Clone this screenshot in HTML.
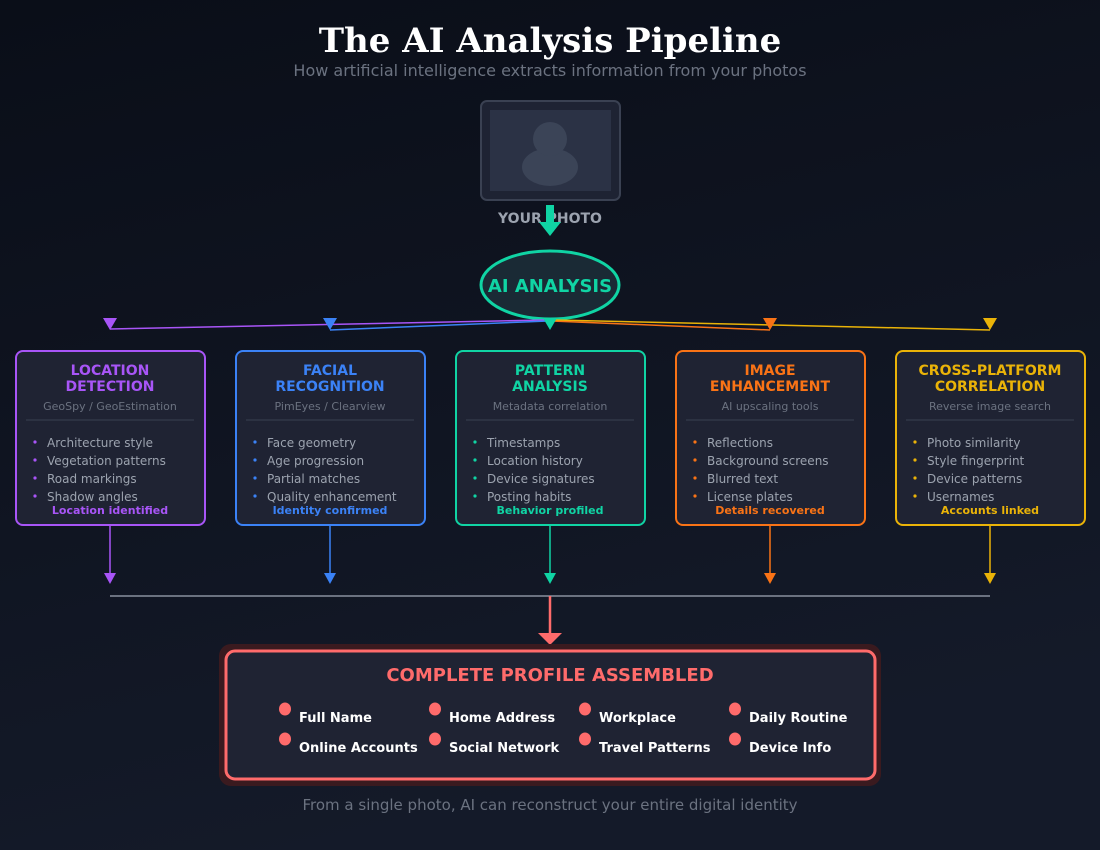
<!DOCTYPE html>
<html><head><meta charset="utf-8"><style>
html,body{margin:0;padding:0;width:1100px;height:850px;overflow:hidden;background:#0d111c}
svg{display:block}
text{font-family:"DejaVu Sans","Liberation Sans",sans-serif}
</style></head><body>
<svg width="1100" height="850" viewBox="0 0 1100 850" xmlns="http://www.w3.org/2000/svg">
<defs>
<linearGradient id="bg" x1="0" y1="0" x2="0.3" y2="1">
<stop offset="0" stop-color="#0a0e18"/><stop offset="1" stop-color="#141a29"/>
</linearGradient>
</defs>
<rect width="1100" height="850" fill="url(#bg)"/>
<text x="550" y="52" text-anchor="middle" style="font-family:'DejaVu Serif','Liberation Serif',serif" font-weight="bold" font-size="34" fill="#ffffff">The AI Analysis Pipeline</text>
<text x="550" y="76" text-anchor="middle" font-size="16" fill="#6b7280">How artificial intelligence extracts information from your photos</text>

<rect x="481" y="101" width="139" height="99" rx="6" fill="#1e2333" stroke="#3a4152" stroke-width="2"/>
<rect x="490" y="110" width="121" height="81" fill="#2b3245"/>
<ellipse cx="550" cy="167" rx="28" ry="19" fill="#3b4457"/>
<circle cx="550" cy="139" r="17" fill="#3b4457"/>
<text x="550" y="223" text-anchor="middle" font-size="14" font-weight="bold" fill="#9ca3af">YOUR PHOTO</text>
<rect x="546" y="205" width="8" height="18" fill="#10d4a4"/>
<polygon points="539,222 561,222 550,236" fill="#10d4a4"/>

<ellipse cx="550" cy="285" rx="69" ry="34" fill="#1a2a35" stroke="#10d4a4" stroke-width="3"/>
<text x="550" y="292" text-anchor="middle" font-size="18" font-weight="bold" fill="#10d4a4">AI ANALYSIS</text>

<g stroke-width="1.5" fill="none">
<line x1="545" y1="320" x2="110" y2="329" stroke="#a855f7"/>
<line x1="548" y1="321" x2="330" y2="330" stroke="#3b82f6"/>
<line x1="552" y1="321" x2="770" y2="330" stroke="#f97316"/>
<line x1="555" y1="320" x2="990" y2="330" stroke="#eab308"/>
</g>
<polygon points="103,318 117,318 110,330" fill="#a855f7"/>
<polygon points="323,318 337,318 330,330" fill="#3b82f6"/>
<polygon points="543,318 557,318 550,330" fill="#10d4a4"/>
<polygon points="763,318 777,318 770,330" fill="#f97316"/>
<polygon points="983,318 997,318 990,330" fill="#eab308"/>

<g font-size="12">
<rect x="16" y="351" width="189" height="174" rx="7" fill="#1f2333" stroke="#a855f7" stroke-width="2"/>
<text x="110" y="375" text-anchor="middle" font-size="14" font-weight="bold" fill="#a855f7">LOCATION</text>
<text x="110" y="391" text-anchor="middle" font-size="14" font-weight="bold" fill="#a855f7">DETECTION</text>
<text x="110" y="410" text-anchor="middle" font-size="11" fill="#6b7280">GeoSpy / GeoEstimation</text>
<line x1="26" y1="420" x2="194" y2="420" stroke="#3a4152"/>
<g fill="#9ca3af"><text x="47" y="447">Architecture style</text><text x="47" y="465">Vegetation patterns</text><text x="47" y="483">Road markings</text><text x="47" y="501">Shadow angles</text></g>
<g fill="#a855f7"><circle cx="35" cy="442" r="1.6"/><circle cx="35" cy="460" r="1.6"/><circle cx="35" cy="478" r="1.6"/><circle cx="35" cy="496" r="1.6"/></g>
<text x="110" y="514" text-anchor="middle" font-size="11" font-weight="bold" fill="#a855f7">Location identified</text>

<rect x="236" y="351" width="189" height="174" rx="7" fill="#1f2333" stroke="#3b82f6" stroke-width="2"/>
<text x="330" y="375" text-anchor="middle" font-size="14" font-weight="bold" fill="#3b82f6">FACIAL</text>
<text x="330" y="391" text-anchor="middle" font-size="14" font-weight="bold" fill="#3b82f6">RECOGNITION</text>
<text x="330" y="410" text-anchor="middle" font-size="11" fill="#6b7280">PimEyes / Clearview</text>
<line x1="246" y1="420" x2="414" y2="420" stroke="#3a4152"/>
<g fill="#9ca3af"><text x="267" y="447">Face geometry</text><text x="267" y="465">Age progression</text><text x="267" y="483">Partial matches</text><text x="267" y="501">Quality enhancement</text></g>
<g fill="#3b82f6"><circle cx="255" cy="442" r="1.6"/><circle cx="255" cy="460" r="1.6"/><circle cx="255" cy="478" r="1.6"/><circle cx="255" cy="496" r="1.6"/></g>
<text x="330" y="514" text-anchor="middle" font-size="11" font-weight="bold" fill="#3b82f6">Identity confirmed</text>

<rect x="456" y="351" width="189" height="174" rx="7" fill="#1f2333" stroke="#10d4a4" stroke-width="2"/>
<text x="550" y="375" text-anchor="middle" font-size="14" font-weight="bold" fill="#10d4a4">PATTERN</text>
<text x="550" y="391" text-anchor="middle" font-size="14" font-weight="bold" fill="#10d4a4">ANALYSIS</text>
<text x="550" y="410" text-anchor="middle" font-size="11" fill="#6b7280">Metadata correlation</text>
<line x1="466" y1="420" x2="634" y2="420" stroke="#3a4152"/>
<g fill="#9ca3af"><text x="487" y="447">Timestamps</text><text x="487" y="465">Location history</text><text x="487" y="483">Device signatures</text><text x="487" y="501">Posting habits</text></g>
<g fill="#10d4a4"><circle cx="475" cy="442" r="1.6"/><circle cx="475" cy="460" r="1.6"/><circle cx="475" cy="478" r="1.6"/><circle cx="475" cy="496" r="1.6"/></g>
<text x="550" y="514" text-anchor="middle" font-size="11" font-weight="bold" fill="#10d4a4">Behavior profiled</text>

<rect x="676" y="351" width="189" height="174" rx="7" fill="#1f2333" stroke="#f97316" stroke-width="2"/>
<text x="770" y="375" text-anchor="middle" font-size="14" font-weight="bold" fill="#f97316">IMAGE</text>
<text x="770" y="391" text-anchor="middle" font-size="14" font-weight="bold" fill="#f97316">ENHANCEMENT</text>
<text x="770" y="410" text-anchor="middle" font-size="11" fill="#6b7280">AI upscaling tools</text>
<line x1="686" y1="420" x2="854" y2="420" stroke="#3a4152"/>
<g fill="#9ca3af"><text x="707" y="447">Reflections</text><text x="707" y="465">Background screens</text><text x="707" y="483">Blurred text</text><text x="707" y="501">License plates</text></g>
<g fill="#f97316"><circle cx="695" cy="442" r="1.6"/><circle cx="695" cy="460" r="1.6"/><circle cx="695" cy="478" r="1.6"/><circle cx="695" cy="496" r="1.6"/></g>
<text x="770" y="514" text-anchor="middle" font-size="11" font-weight="bold" fill="#f97316">Details recovered</text>

<rect x="896" y="351" width="189" height="174" rx="7" fill="#1f2333" stroke="#eab308" stroke-width="2"/>
<text x="990" y="375" text-anchor="middle" font-size="14" font-weight="bold" fill="#eab308">CROSS-PLATFORM</text>
<text x="990" y="391" text-anchor="middle" font-size="14" font-weight="bold" fill="#eab308">CORRELATION</text>
<text x="990" y="410" text-anchor="middle" font-size="11" fill="#6b7280">Reverse image search</text>
<line x1="906" y1="420" x2="1074" y2="420" stroke="#3a4152"/>
<g fill="#9ca3af"><text x="927" y="447">Photo similarity</text><text x="927" y="465">Style fingerprint</text><text x="927" y="483">Device patterns</text><text x="927" y="501">Usernames</text></g>
<g fill="#eab308"><circle cx="915" cy="442" r="1.6"/><circle cx="915" cy="460" r="1.6"/><circle cx="915" cy="478" r="1.6"/><circle cx="915" cy="496" r="1.6"/></g>
<text x="990" y="514" text-anchor="middle" font-size="11" font-weight="bold" fill="#eab308">Accounts linked</text>
</g>

<g stroke-width="1.5">
<line x1="110" y1="526" x2="110" y2="575" stroke="#a855f7"/>
<line x1="330" y1="526" x2="330" y2="575" stroke="#3b82f6"/>
<line x1="550" y1="526" x2="550" y2="575" stroke="#10d4a4"/>
<line x1="770" y1="526" x2="770" y2="575" stroke="#f97316"/>
<line x1="990" y1="526" x2="990" y2="575" stroke="#eab308"/>
</g>
<polygon points="104,573 116,573 110,584" fill="#a855f7"/>
<polygon points="324,573 336,573 330,584" fill="#3b82f6"/>
<polygon points="544,573 556,573 550,584" fill="#10d4a4"/>
<polygon points="764,573 776,573 770,584" fill="#f97316"/>
<polygon points="984,573 996,573 990,584" fill="#eab308"/>
<line x1="110" y1="596" x2="990" y2="596" stroke="#6b7280" stroke-width="2"/>
<line x1="550" y1="596" x2="550" y2="635" stroke="#ff6b6b" stroke-width="2.5"/>
<polygon points="538,633 562,633 550,645" fill="#ff6b6b"/>

<rect x="219" y="644" width="662" height="142" rx="12" fill="#3a1a1f"/>
<rect x="226" y="651" width="649" height="128" rx="9" fill="#1f2333" stroke="#ff6b6b" stroke-width="3"/>
<text x="550" y="681" text-anchor="middle" font-size="18" font-weight="bold" fill="#ff6b6b">COMPLETE PROFILE ASSEMBLED</text>
<g fill="#ff6b6b">
<ellipse cx="285" cy="709" rx="6" ry="6.5"/><ellipse cx="435" cy="709" rx="6" ry="6.5"/><ellipse cx="585" cy="709" rx="6" ry="6.5"/><ellipse cx="735" cy="709" rx="6" ry="6.5"/>
<ellipse cx="285" cy="739" rx="6" ry="6.5"/><ellipse cx="435" cy="739" rx="6" ry="6.5"/><ellipse cx="585" cy="739" rx="6" ry="6.5"/><ellipse cx="735" cy="739" rx="6" ry="6.5"/>
</g>
<g fill="#ffffff" font-size="13" font-weight="bold">
<text x="299" y="722">Full Name</text><text x="449" y="722">Home Address</text><text x="599" y="722">Workplace</text><text x="749" y="722">Daily Routine</text>
<text x="299" y="752">Online Accounts</text><text x="449" y="752">Social Network</text><text x="599" y="752">Travel Patterns</text><text x="749" y="752">Device Info</text>
</g>
<text x="550" y="810" text-anchor="middle" font-size="15" fill="#6b7280">From a single photo, AI can reconstruct your entire digital identity</text>
</svg>
</body></html>
